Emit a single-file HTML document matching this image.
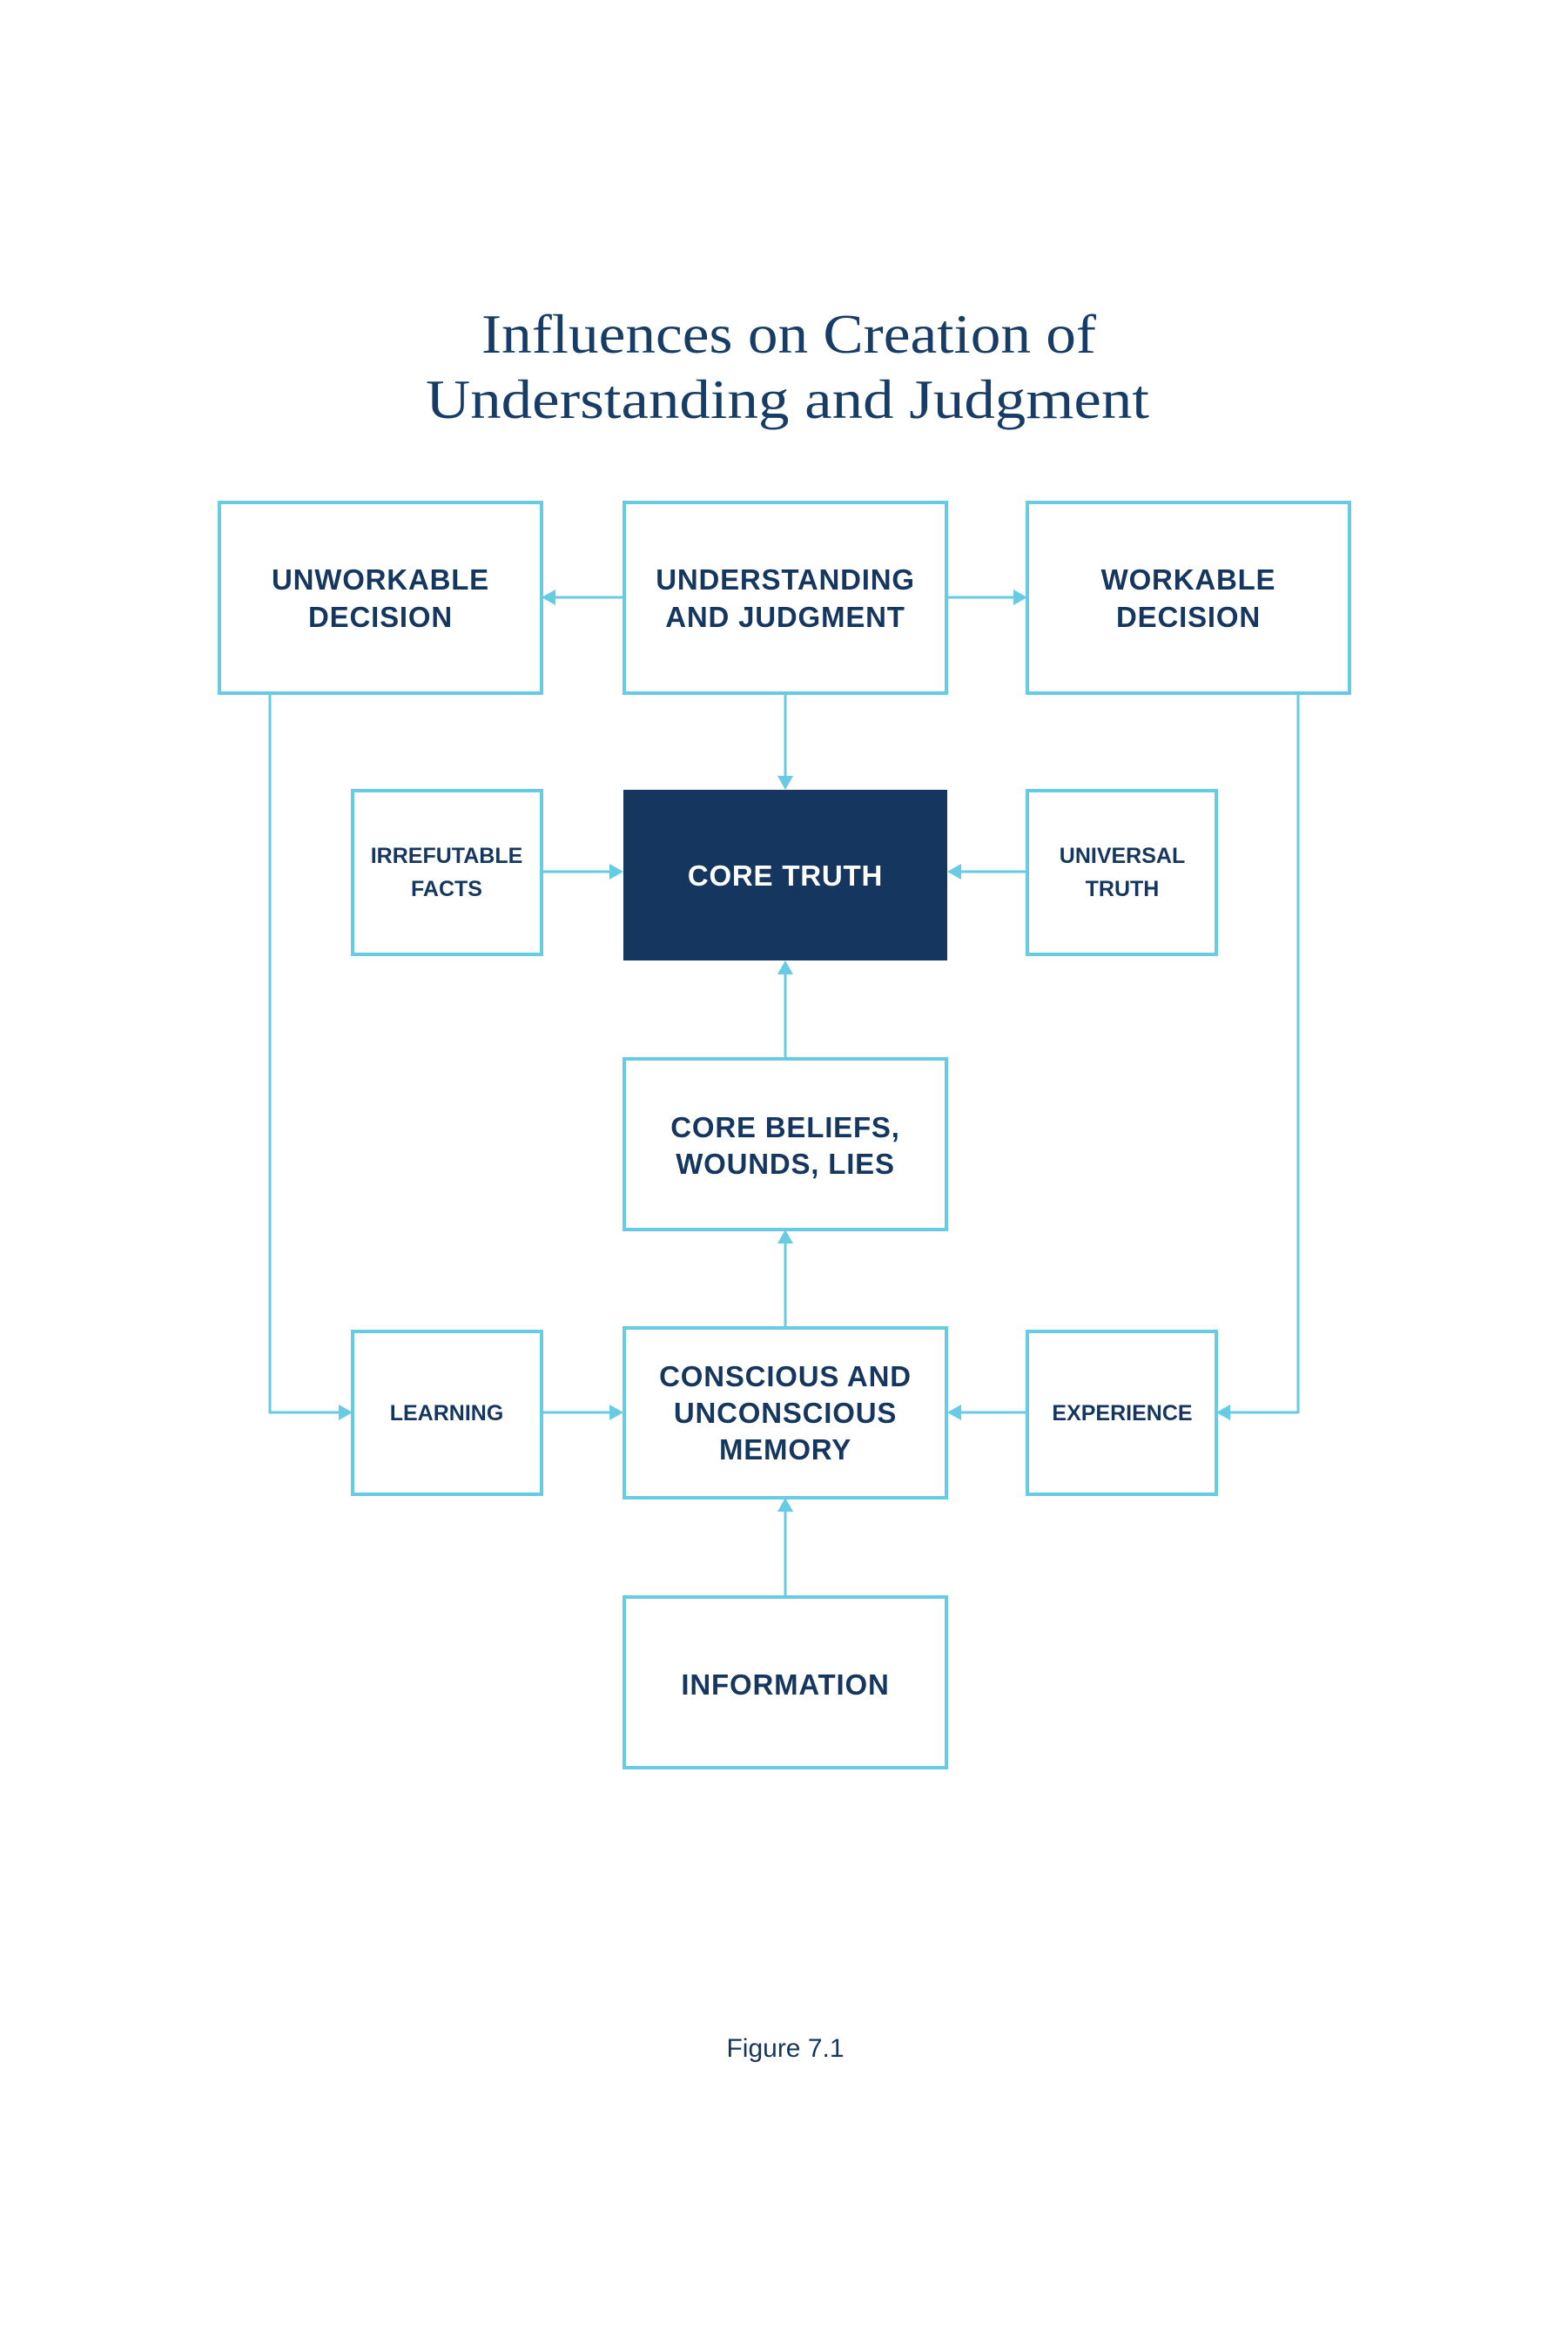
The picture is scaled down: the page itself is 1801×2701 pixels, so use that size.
<!DOCTYPE html>
<html><head><meta charset="utf-8"><style>
html,body{margin:0;padding:0;background:#fff}
svg{display:block}
.b{font-family:"Liberation Sans",sans-serif;font-weight:bold;fill:#15375f;text-anchor:middle}
.t{font-family:"Liberation Serif",serif;fill:#173c66;font-size:64px}
</style></head><body>
<svg width="1801" height="2701" viewBox="0 0 1801 2701" xmlns="http://www.w3.org/2000/svg">
<text class="t" x="553" y="405" textLength="706" lengthAdjust="spacingAndGlyphs">Influences on Creation of</text>
<text class="t" x="489" y="480" textLength="831" lengthAdjust="spacingAndGlyphs">Understanding and Judgment</text>
<g fill="none" stroke="#66cbe3" stroke-width="4">
<rect x="252" y="577" width="370" height="219"/>
<rect x="717" y="577" width="370" height="219"/>
<rect x="1180" y="577" width="370" height="219"/>
<rect x="405" y="908" width="217" height="188"/>
<rect x="1180" y="908" width="217" height="188"/>
<rect x="717" y="1216" width="370" height="196"/>
<rect x="405" y="1529" width="217" height="187"/>
<rect x="717" y="1525" width="370" height="195"/>
<rect x="1180" y="1529" width="217" height="187"/>
<rect x="717" y="1834" width="370" height="196"/>
</g>
<rect x="716" y="907" width="372" height="196" fill="#15375f"/>
<g fill="none" stroke="#66cbe3" stroke-width="3">
<line x1="717" y1="686" x2="635" y2="686"/>
<line x1="1087" y1="686" x2="1167" y2="686"/>
<line x1="902" y1="796" x2="902" y2="893"/>
<line x1="622" y1="1001" x2="702" y2="1001"/>
<line x1="1180" y1="1001" x2="1102" y2="1001"/>
<line x1="902" y1="1216" x2="902" y2="1118"/>
<line x1="902" y1="1525" x2="902" y2="1426"/>
<line x1="902" y1="1834" x2="902" y2="1735"/>
<line x1="622" y1="1622" x2="702" y2="1622"/>
<line x1="1180" y1="1622" x2="1102" y2="1622"/>
<polyline points="310,796 310,1622 391,1622"/>
<polyline points="1491,796 1491,1622 1411,1622"/>
</g>
<g fill="#66cbe3">
<polygon points="622,686 638,677 638,695"/>
<polygon points="1180,686 1164,677 1164,695"/>
<polygon points="902,907 893,891 911,891"/>
<polygon points="716,1001 700,992 700,1010"/>
<polygon points="1088,1001 1104,992 1104,1010"/>
<polygon points="902,1103 893,1119 911,1119"/>
<polygon points="902,1412 893,1428 911,1428"/>
<polygon points="902,1720 893,1736 911,1736"/>
<polygon points="405,1622 389,1613 389,1631"/>
<polygon points="716,1622 700,1613 700,1631"/>
<polygon points="1088,1622 1104,1613 1104,1631"/>
<polygon points="1397,1622 1413,1613 1413,1631"/>
</g>
<g class="b" font-size="33" letter-spacing="0.8">
<text x="437" y="677">UNWORKABLE</text><text x="437" y="720">DECISION</text>
<text x="902" y="677">UNDERSTANDING</text><text x="902" y="720">AND JUDGMENT</text>
<text x="1365" y="677">WORKABLE</text><text x="1365" y="720">DECISION</text>
<text x="902" y="1017" style="fill:#fff">CORE TRUTH</text>
<text x="902" y="1306">CORE BELIEFS,</text><text x="902" y="1348">WOUNDS, LIES</text>
<text x="902" y="1592">CONSCIOUS AND</text><text x="902" y="1634">UNCONSCIOUS</text><text x="902" y="1676">MEMORY</text>
<text x="902" y="1946">INFORMATION</text>
</g>
<g class="b" font-size="25">
<text x="513" y="991">IRREFUTABLE</text><text x="513" y="1029">FACTS</text>
<text x="1289" y="991">UNIVERSAL</text><text x="1289" y="1029">TRUTH</text>
<text x="513" y="1631">LEARNING</text>
<text x="1289" y="1631">EXPERIENCE</text>
</g>
<text x="902" y="2362" font-family="Liberation Sans,sans-serif" font-size="30" fill="#15375f" text-anchor="middle">Figure 7.1</text>
</svg>
</body></html>
